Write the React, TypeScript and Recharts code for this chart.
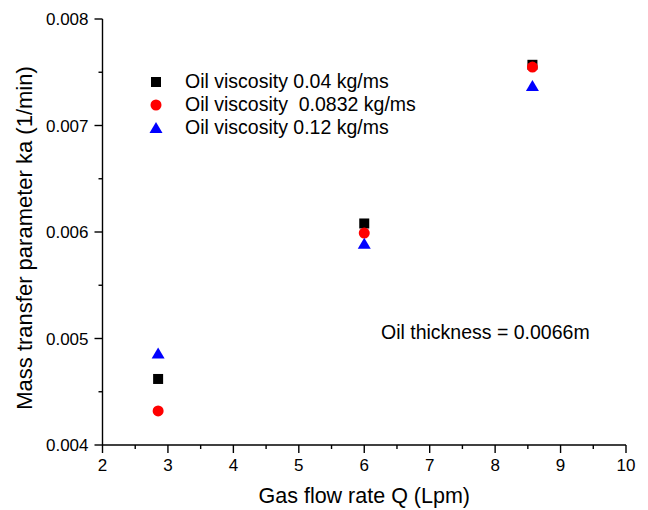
import { ScatterChart, Scatter, XAxis, YAxis } from 'recharts'

const gasFlow = [2.85, 6.0, 8.57]
const ka004 = [0.00462, 0.00608, 0.00757]
const ka0832 = [0.00432, 0.00599, 0.007549]
const ka012 = [0.00486, 0.00589, 0.00737]

const seriesNames = [
  'Oil viscosity 0.04 kg/ms',
  'Oil viscosity  0.0832 kg/ms',
  'Oil viscosity 0.12 kg/ms',
]

const xTicks = [2, 2.5, 3, 3.5, 4, 4.5, 5, 5.5, 6, 6.5, 7, 7.5, 8, 8.5, 9, 9.5, 10]
const yTicks = [0.004, 0.0045, 0.005, 0.0055, 0.006, 0.0065, 0.007, 0.0075, 0.008]

const toPoints = (ys: number[]) => gasFlow.map((x, i) => ({ x, y: ys[i] }))

const FONT = 'Liberation Sans, Arial, sans-serif'

function Square(props: any) {
  const { cx, cy } = props
  return <rect x={cx - 5} y={cy - 5} width={10} height={10} fill="#000" />
}

function Dot(props: any) {
  const { cx, cy } = props
  return <circle cx={cx} cy={cy} r={5.5} fill="#ff0000" />
}

function Tri(props: any) {
  const { cx, cy } = props
  return <polygon points={`${cx},${cy - 6} ${cx + 6.5},${cy + 5} ${cx - 6.5},${cy + 5}`} fill="#0000ff" />
}

// tick anchor sits tickSize (6) + tickMargin (2) away from the axis line
function XTick(props: any) {
  const { x, y, payload } = props
  const v = payload.value
  const major = Number.isInteger(v)
  const y0 = y - 8
  return (
    <g>
      <path d={`M${x},${y0}V${y0 + (major ? 8 : 4)}`} stroke="#000" strokeWidth={1.4} fill="none" />
      {major && (
        <text x={x} y={y + 18} textAnchor="middle" fontSize={17} fontFamily={FONT} fill="#000">
          {v}
        </text>
      )}
    </g>
  )
}

function YTick(props: any) {
  const { x, y, payload } = props
  const v = payload.value
  const major = Math.abs(Math.round(v * 1000) - v * 1000) < 1e-6
  const x0 = x + 8
  return (
    <g>
      <path d={`M${x0},${y}H${x0 - (major ? 8 : 4)}`} stroke="#000" strokeWidth={1.4} fill="none" />
      {major && (
        <text x={x - 6} y={y + 6} textAnchor="end" fontSize={17} fontFamily={FONT} fill="#000">
          {v.toFixed(3)}
        </text>
      )}
    </g>
  )
}

function YTitle(props: any) {
  const { viewBox } = props
  const cx = 32
  const cy = viewBox.y + viewBox.height / 2 + 6
  return (
    <text
      x={cx}
      y={cy}
      transform={`rotate(-90, ${cx}, ${cy})`}
      textAnchor="middle"
      fontSize={22}
      fontFamily={FONT}
      fill="#000"
    >
      Mass transfer parameter ka (1/min)
    </text>
  )
}

function XTitle(props: any) {
  const { viewBox } = props
  return (
    <text x={viewBox.x + viewBox.width / 2} y={503} textAnchor="middle" fontSize={21.5} fontFamily={FONT} fill="#000">
      Gas flow rate Q (Lpm)
    </text>
  )
}

export default function App() {
  return (
    <div style={{ position: 'absolute', left: 0, top: 0, width: 648, height: 510, background: '#fff', fontFamily: FONT }}>
      <ScatterChart width={648} height={510} margin={{ top: 19, right: 22, bottom: 0, left: 0 }}>
        <XAxis
          type="number"
          dataKey="x"
          domain={[2, 10]}
          ticks={xTicks}
          interval={0}
          height={65}
          tickLine={false}
          tick={<XTick />}
          axisLine={{ stroke: '#000', strokeWidth: 1.4 }}
          label={<XTitle />}
        />
        <YAxis
          type="number"
          dataKey="y"
          domain={[0.004, 0.008]}
          ticks={yTicks}
          interval={0}
          width={102.5}
          tickLine={false}
          tick={<YTick />}
          axisLine={{ stroke: '#000', strokeWidth: 1.4 }}
          label={<YTitle />}
        />
        <Scatter name={seriesNames[0]} data={toPoints(ka004)} shape={<Square />} isAnimationActive={false} />
        <Scatter name={seriesNames[1]} data={toPoints(ka0832)} shape={<Dot />} isAnimationActive={false} />
        <Scatter name={seriesNames[2]} data={toPoints(ka012)} shape={<Tri />} isAnimationActive={false} />
      </ScatterChart>
      <div style={{ position: 'absolute', left: 148, top: 70, fontSize: 19.5, lineHeight: '23.2px', color: '#000' }}>
        {seriesNames.map((name, i) => (
          <div key={name} style={{ display: 'flex', alignItems: 'center', whiteSpace: 'pre', height: 23.2 }}>
            <svg width={16} height={16} style={{ marginRight: 21, flex: 'none' }}>
              {i === 0 && <rect x={3} y={3} width={10} height={10} fill="#000" />}
              {i === 1 && <circle cx={8} cy={8} r={5.5} fill="#ff0000" />}
              {i === 2 && <polygon points="8,2 14.5,13 1.5,13" fill="#0000ff" />}
            </svg>
            <span>{name}</span>
          </div>
        ))}
      </div>
      <div style={{ position: 'absolute', left: 381, top: 321, fontSize: 19.5, color: '#000', whiteSpace: 'pre' }}>
        Oil thickness = 0.0066m
      </div>
    </div>
  )
}
